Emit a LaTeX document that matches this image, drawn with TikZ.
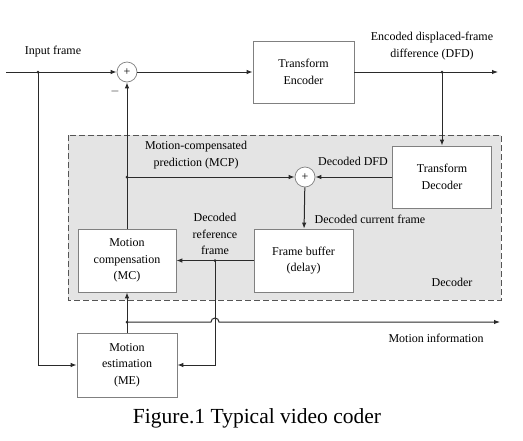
\documentclass[tikz,border=0pt]{standalone}
\usepackage{fontspec}
\setmainfont{Liberation Serif}
\definecolor{LineGray}{HTML}{2a2a2a}
\definecolor{BoxEdge}{HTML}{808080}
\definecolor{PanelFill}{HTML}{e4e4e4}
\usetikzlibrary{positioning, arrows.meta, calc}
\usepackage{xcolor}

\begin{document}
\begin{tikzpicture}[x=1pt, y=-1pt,
    font=\fontsize{12}{16.5}\selectfont,
    blockbox/.style={draw=BoxEdge, fill=white, line width=0.7pt, align=center, inner sep=0pt},
    adder/.style={circle, draw=BoxEdge, fill=white, line width=0.7pt, minimum size=20pt, inner sep=0pt},
    flow/.style={draw=LineGray, line width=1pt, -{Latex[length=6pt, width=4.5pt]}},
    wire/.style={draw=LineGray, line width=1pt},
    tap/.style={circle, fill=LineGray, inner sep=0pt, minimum size=3pt},
    lbl/.style={align=center, inner sep=0pt}]
  \useasboundingbox (0,0) rectangle (523,440);
  \fill[white] (0,0) rectangle (523,440);

  % decoder panel
  \draw[draw=LineGray!80, fill=PanelFill, line width=0.9pt, dash pattern=on 6pt off 3pt]
    (68,135) rectangle (501,300);

  % blocks
  \node[adder] (sumIn) at (127,72) {+};
  \node[blockbox, minimum width=101pt, minimum height=62pt] (enc) at (303.5,72) {Transform\\Encoder};
  \node[blockbox, minimum width=99pt, minimum height=62pt] (dec) at (442,177) {Transform\\Decoder};
  \node[adder] (sumDec) at (305,177) {+};
  \node[blockbox, minimum width=99pt, minimum height=63pt] (fbuf) at (303.5,260.5) {Frame buffer\\(delay)};
  \node[blockbox, minimum width=98pt, minimum height=63pt] (mc) at (127,260.5) {Motion\\compensation\\(MC)};
  \node[blockbox, minimum width=100pt, minimum height=64pt] (me) at (127,365) {Motion\\estimation\\(ME)};

  % junctions and free ends
  \coordinate (inStart) at (6,72);
  \node[tap] (inTap) at (38,72) {};
  \node[tap] (outTap) at (442,72) {};
  \coordinate (outEnd) at (498,72);
  \node[tap] (mcpTap) at (127,177) {};
  \node[tap] (refTap) at (215,260.5) {};
  \node[tap] (motTap) at (127,322) {};
  \coordinate (motEnd) at (500,322);

  % connectors
  \draw[flow] (inStart) -- (sumIn);
  \draw[flow] (inTap.center) |- (me);
  \draw[flow] (sumIn) -- (enc);
  \draw[flow] (enc) -- (outEnd);
  \draw[flow] (outTap.center) -- (dec);
  \draw[flow] (dec) -- (sumDec);
  \draw[flow] (mc) -- (sumIn);
  \draw[flow] (mcpTap.center) -- (sumDec);
  \draw[flow] (sumDec) -- (fbuf);
  \draw[flow] (fbuf) -- (mc);
  \draw[flow] (refTap.center) |- (me);
  \draw[flow] (me) -- (mc);
  \draw[flow] (motTap.center) -- (211,322)
    arc[start angle=180, end angle=0, radius=4pt] -- (motEnd);

  % labels
  \node[lbl] (inLbl) at (53,52) {Input frame};
  \node[lbl] (minus) at (115,91) {$-$};
  \node[lbl] (encLbl) at (432,46) {Encoded displaced-frame\\difference (DFD)};
  \node[lbl] (mcpLbl) at (196,155) {Motion-compensated\\prediction (MCP)};
  \node[lbl] (dfdLbl) at (353,161) {Decoded DFD};
  \node[lbl] (curLbl) at (370,219) {Decoded current frame};
  \node[lbl] (refLbl) at (215,234) {Decoded\\reference\\frame};
  \node[lbl] (decLbl) at (452,282) {Decoder};
  \node[lbl] (motLbl) at (436,338) {Motion information};
  \node[lbl, font=\fontsize{21.5}{24}\selectfont] (caption) at (257,418) {Figure.1 Typical video coder};
\end{tikzpicture}
\end{document}
